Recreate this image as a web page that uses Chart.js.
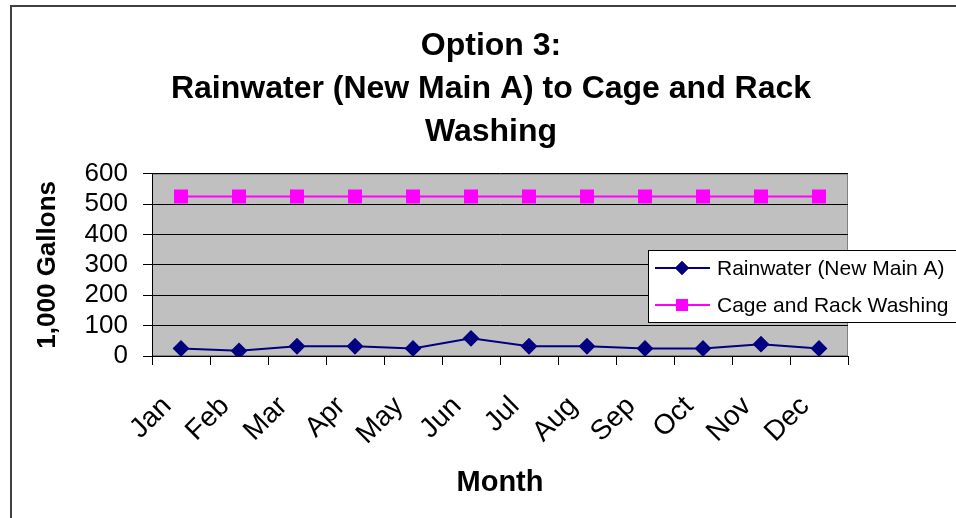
<!DOCTYPE html>
<html>
<head>
<meta charset="utf-8">
<script src="https://cdn.jsdelivr.net/npm/chart.js@4.4.0/dist/chart.umd.min.js"></script>
<style>
    body { margin: 0; background: #fff; }
    #grafica { display: block; }
</style>
</head>
<body>
<canvas id="grafica" width="956" height="518"></canvas>
<script>
const meses = ['Jan', 'Feb', 'Mar', 'Apr', 'May', 'Jun', 'Jul', 'Aug', 'Sep', 'Oct', 'Nov', 'Dec'];
const lluvia = [25, 17, 32, 32, 25, 58, 32, 32, 25, 25, 39, 25];
const lavado = [525, 525, 525, 525, 525, 525, 525, 525, 525, 525, 525, 525];
const tituloLineas = ['Option 3:', 'Rainwater (New Main A) to Cage and Rack', 'Washing'];

const FUENTE = "'Liberation Sans', Arial, sans-serif";

// fondo blanco, marco exterior y area gris del grafico
const fondoPlugin = {
    id: 'fondo',
    beforeDraw(chart) {
        const { ctx, chartArea: a } = chart;
        ctx.save();
        ctx.fillStyle = '#fff';
        ctx.fillRect(0, 0, chart.width, chart.height);
        ctx.strokeStyle = '#404040';
        ctx.lineWidth = 2;
        ctx.strokeRect(11, 6, chart.width + 20, chart.height + 20);
        ctx.fillStyle = '#c0c0c0';
        ctx.fillRect(a.left, a.top, a.right - a.left, a.bottom - a.top);
        ctx.strokeStyle = '#808080';
        ctx.lineWidth = 1;
        ctx.strokeRect(a.left + 0.5, a.top + 0.5, a.right - a.left - 1, a.bottom - a.top - 1);
        ctx.restore();
    }
};

// leyenda encima del area del grafico, como en el original
const leyendaPlugin = {
    id: 'leyenda',
    afterDraw(chart) {
        const { ctx } = chart;
        const x = 648, y = 250, w = 330, h = 72;
        ctx.save();
        ctx.fillStyle = '#fff';
        ctx.fillRect(x, y, w, h);
        ctx.strokeStyle = '#000';
        ctx.lineWidth = 1;
        ctx.strokeRect(x + 0.5, y + 0.5, w, h);
        chart.data.datasets.forEach((ds, i) => {
            const cy = y + 18 + i * 37;
            ctx.strokeStyle = ds.borderColor;
            ctx.lineWidth = ds.borderWidth;
            ctx.beginPath();
            ctx.moveTo(x + 7, cy);
            ctx.lineTo(x + 62, cy);
            ctx.stroke();
            ctx.fillStyle = ds.pointBackgroundColor;
            Chart.helpers.drawPoint(ctx, { pointStyle: ds.pointStyle, radius: ds.pointRadius, borderWidth: 0 }, x + 34, cy);
            ctx.fill();
            ctx.fillStyle = '#000';
            ctx.font = `21px ${FUENTE}`;
            ctx.textBaseline = 'middle';
            ctx.textAlign = 'left';
            ctx.fillText(ds.label, x + 69, cy + 1);
        });
        ctx.restore();
    }
};

new Chart(document.getElementById('grafica'), {
    type: 'line',
    data: {
        labels: meses,
        datasets: [{
            label: 'Rainwater (New Main A)',
            data: lluvia,
            borderColor: '#000080',
            backgroundColor: '#000080',
            pointBackgroundColor: '#000080',
            pointBorderColor: '#000080',
            borderWidth: 2,
            pointStyle: 'rectRot',
            pointRadius: 7,
            pointHoverRadius: 7,
            tension: 0
        }, {
            label: 'Cage and Rack Washing',
            data: lavado,
            borderColor: '#ff00ff',
            backgroundColor: '#ff00ff',
            pointBackgroundColor: '#ff00ff',
            pointBorderColor: '#ff00ff',
            borderWidth: 2,
            pointStyle: 'rect',
            pointRadius: 8.5,
            pointHoverRadius: 8.5,
            tension: 0
        }]
    },
    options: {
        responsive: false,
        animation: false,
        layout: { padding: { left: 26, right: 0, top: 0, bottom: 0 } },
        plugins: {
            legend: { display: false },
            tooltip: { enabled: false },
            title: {
                display: true,
                text: tituloLineas,
                color: '#000',
                font: { family: FUENTE, size: 32, weight: 'bold', lineHeight: 1.34 },
                padding: { top: 25, bottom: 20 }
            }
        },
        scales: {
            x: {
                offset: true,
                afterFit: s => { s.height = 162; },
                grid: { offset: true, drawOnChartArea: false, drawTicks: true, tickLength: 9, color: '#000' },
                border: { color: '#000', width: 1 },
                ticks: {
                    autoSkip: false,
                    minRotation: 45,
                    maxRotation: 45,
                    padding: 25,
                    labelOffset: -14,
                    color: '#000',
                    font: { family: FUENTE, size: 28 }
                },
                title: {
                    display: true,
                    text: 'Month',
                    color: '#000',
                    font: { family: FUENTE, size: 29, weight: 'bold' },
                    padding: { top: 0, bottom: 18 }
                }
            },
            y: {
                min: 0,
                max: 600,
                afterFit: s => { s.width = 126; },
                grid: { color: '#000', lineWidth: 1, tickLength: 9 },
                border: { color: '#000', width: 1 },
                ticks: {
                    stepSize: 100,
                    autoSkip: false,
                    padding: 15,
                    color: '#000',
                    font: { family: FUENTE, size: 26 }
                },
                title: {
                    display: true,
                    text: '1,000 Gallons',
                    color: '#000',
                    font: { family: FUENTE, size: 26, weight: 'bold' },
                    padding: { top: 6, bottom: 0 }
                }
            },
            // eje vacio a la derecha para dejar el hueco del original
            derecha: {
                position: 'right',
                display: true,
                afterFit: s => { s.width = 108; },
                grid: { display: false },
                border: { display: false },
                ticks: { display: false }
            }
        }
    },
    plugins: [fondoPlugin, leyendaPlugin]
});
</script>
</body>
</html>
